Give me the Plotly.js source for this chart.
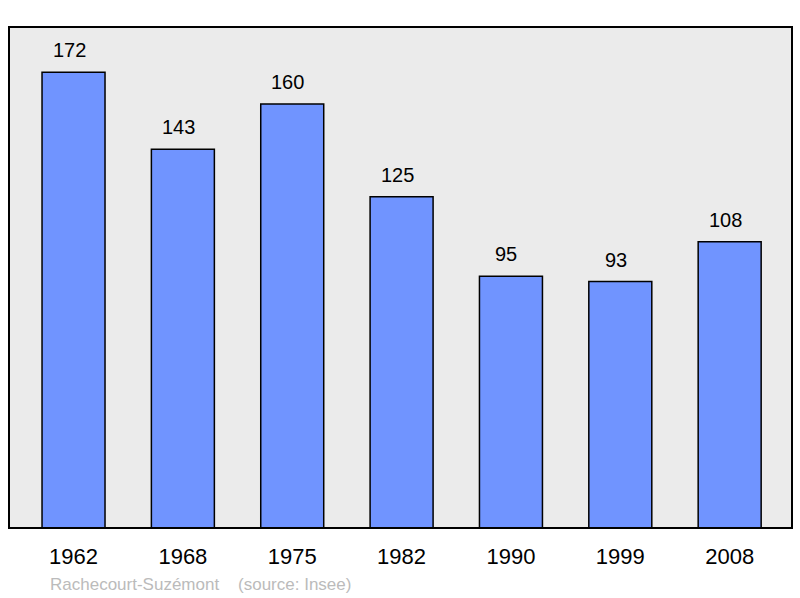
<!DOCTYPE html>
<html>
<head>
<meta charset="utf-8">
<script src="https://cdn.plot.ly/plotly-3.0.1.min.js"></script>
<style>html,body{margin:0;padding:0;background:#fff;}#chart{width:800px;height:598px;}</style>
</head>
<body>
<div id="chart"></div>
<script>
var years = ['1962', '1968', '1975', '1982', '1990', '1999', '2008'];
var population = [172, 143, 160, 125, 95, 93, 108];
var sourceText = 'Rachecourt-Suzémont\u00a0\u00a0\u00a0\u00a0(source: Insee)';

var trace = {
  type: 'bar',
  x: years,
  y: population,
  width: 0.576,
  marker: {color: '#7094FF', line: {color: '#000000', width: 1.5}},
  hoverinfo: 'x+y'
};

var labelAnnotations = years.map(function (yr, i) {
  return {
    x: i, y: population[i], xref: 'x', yref: 'y',
    text: String(population[i]), showarrow: false,
    xshift: -4.5, yshift: 22, font: {family: 'Liberation Sans, Arial, sans-serif', size: 20, color: '#000'}
  };
});

labelAnnotations.push({
  xref: 'paper', yref: 'paper', x: 0.05, y: 0, yshift: -56, xanchor: 'left', yanchor: 'middle',
  text: sourceText, showarrow: false,
  font: {family: 'Liberation Sans, Arial, sans-serif', size: 17, color: '#BBBBBB'}
});

var layout = {
  width: 800, height: 598,
  margin: {l: 9, r: 8, t: 27, b: 70},
  paper_bgcolor: '#FFFFFF',
  plot_bgcolor: '#EBEBEB',
  showlegend: false,
  bargap: 0.42,
  xaxis: {
    type: 'category',
    range: [-0.59, 6.57],
    showgrid: false, zeroline: false, showline: false,
    ticks: 'outside', ticklen: 9, tickcolor: 'rgba(0,0,0,0)',
    tickfont: {family: 'Liberation Sans, Arial, sans-serif', size: 22, color: '#000'}
  },
  yaxis: {
    range: [0, 189.1],
    showgrid: false, zeroline: false, showline: false, showticklabels: false, ticks: ''
  },
  shapes: [{
    type: 'rect', xref: 'paper', yref: 'paper', x0: 0, x1: 1, y0: 0, y1: 1,
    line: {color: '#000000', width: 2}, fillcolor: 'rgba(0,0,0,0)', layer: 'above'
  }],
  annotations: labelAnnotations
};

Plotly.newPlot('chart', [trace], layout, {displayModeBar: false, staticPlot: true});
</script>
</body>
</html>
